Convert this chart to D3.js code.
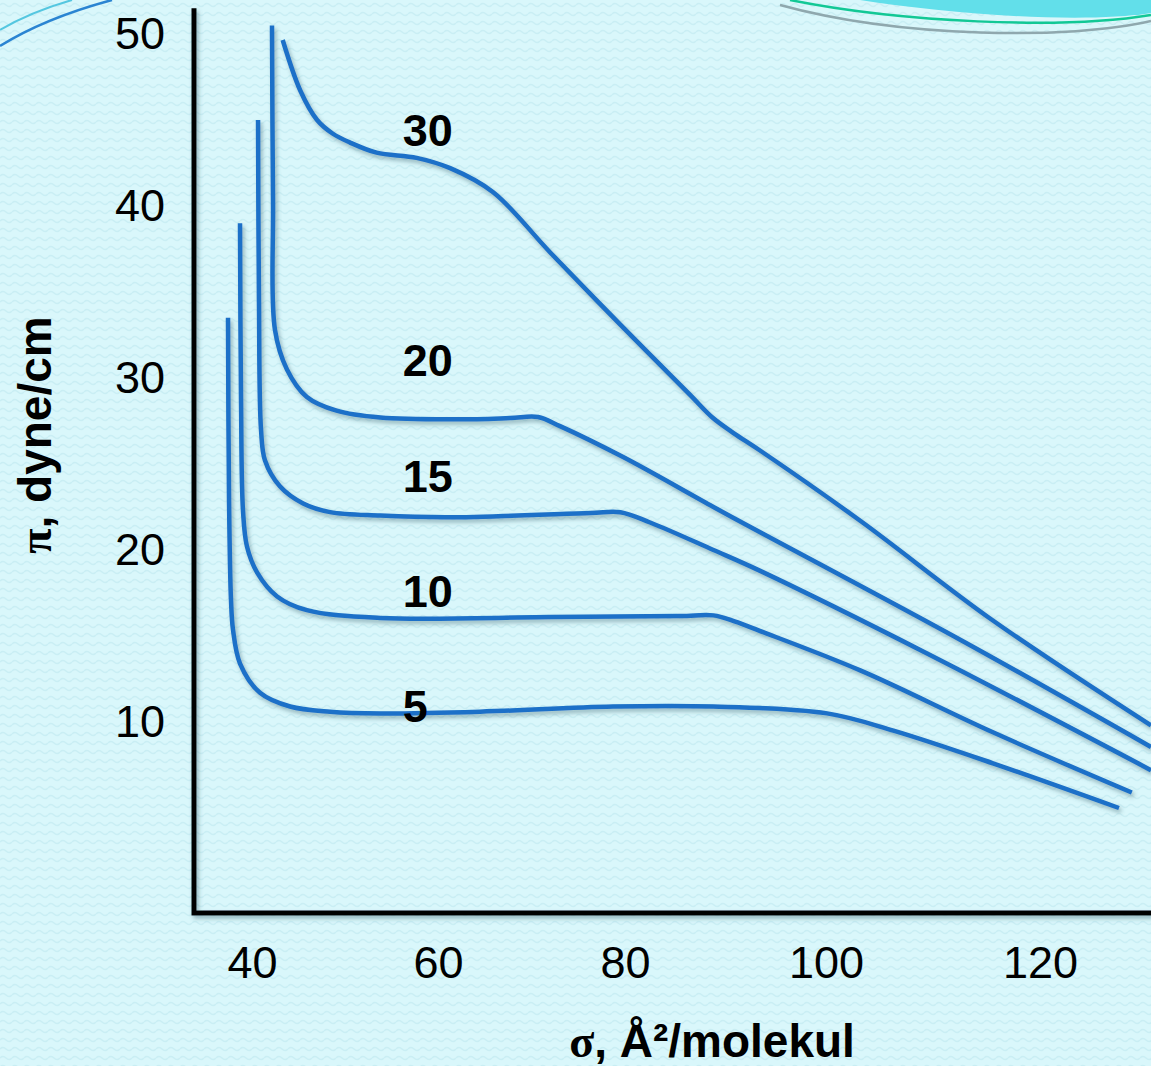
<!DOCTYPE html>
<html>
<head>
<meta charset="utf-8">
<script src="https://cdn.jsdelivr.net/npm/d3@7"></script>
<style>
  html, body { margin: 0; padding: 0; background: #d9f7fb; }
  svg { display: block; }
  text { font-family: "Liberation Sans", Arial, sans-serif; fill: #000; }
</style>
</head>
<body>
<div id="chart"></div>
<script>
// surface pressure isotherms, pi vs sigma
const xTicks = [40, 60, 80, 100, 120];
const yTicks = [10, 20, 30, 40, 50];

const curveNames = ["30", "20", "15", "10", "5"];

const sigma30 = [43.3, 45.2, 47.0, 48.7, 50.5, 53.4, 57.7, 61.3, 65.9, 72.0, 79.5, 86.5, 88.7, 90.8, 93.4, 103.2, 115.6, 130.4];
const pi30    = [49.65, 46.7, 45.0, 44.2, 43.7, 43.1, 42.8, 42.2, 40.8, 37.3, 33.1, 29.0, 27.7, 26.8, 25.8, 21.7, 15.9, 9.8];

const sigma20 = [42.15, 42.26, 42.47, 43.76, 45.9, 49.1, 53.8, 62.3, 67.7, 70.7, 73.05, 79.8, 88.8, 93.4, 112.5, 130.4];
const pi20    = [50.5, 40.3, 32.8, 30.5, 28.9, 28.1, 27.7, 27.6, 27.67, 27.73, 27.2, 25.4, 22.5, 21.05, 14.8, 8.55];

const sigma15 = [40.65, 40.75, 40.97, 41.4, 43.0, 45.5, 48.4, 53.8, 61.0, 76.3, 79.5, 82.5, 88.8, 93.4, 109.4, 130.4];
const pi15    = [45.0, 34.5, 27.0, 25.2, 23.7, 22.7, 22.2, 22.0, 21.9, 22.15, 22.2, 21.6, 20.0, 18.8, 14.0, 7.2];

const sigma10 = [38.71, 38.82, 39.03, 39.46, 40.54, 42.7, 45.9, 53.8, 72.0, 85.5, 88.8, 90.9, 93.4, 103.2, 115.6, 128.6];
const pi10    = [39.0, 28.7, 22.3, 20.2, 18.7, 17.3, 16.5, 16.05, 16.1, 16.16, 16.2, 15.85, 15.3, 13.0, 9.4, 5.9];

const sigma5 = [37.42, 37.53, 37.74, 37.96, 38.71, 40.86, 44.1, 48.4, 53.8, 64.5, 78.7, 88.8, 100.1, 106.3, 115.6, 127.4];
const pi5    = [33.5, 22.9, 17.1, 15.35, 13.4, 11.7, 10.9, 10.6, 10.5, 10.6, 10.9, 10.9, 10.5, 9.5, 7.6, 5.0];

// where the curve labels sit (data units)
const labelSigma = 56.2;
const labelPi = [43.5, 30.1, 23.4, 16.7, 10.0];

const W = 1151, H = 1066;

const svg = d3.select("#chart").append("svg")
    .attr("width", W)
    .attr("height", H);

const defs = svg.append("defs");

// faint wavy texture of the slide background
const pat = defs.append("pattern")
    .attr("id", "waves")
    .attr("width", 12)
    .attr("height", 9)
    .attr("patternUnits", "userSpaceOnUse");
pat.append("rect").attr("width", 12).attr("height", 9).attr("fill", "#d9f7fb");
pat.append("path")
    .attr("d", "M0 5 Q3 2 6 5 T12 5")
    .attr("fill", "none")
    .attr("stroke", "#c9eef4")
    .attr("stroke-width", 1.4);

const shadow = defs.append("filter")
    .attr("id", "shadow")
    .attr("x", "-10%").attr("y", "-10%")
    .attr("width", "120%").attr("height", "120%");
shadow.append("feDropShadow")
    .attr("dx", 2).attr("dy", 3)
    .attr("stdDeviation", 2)
    .attr("flood-color", "#3d6470")
    .attr("flood-opacity", 0.45);

svg.append("rect").attr("width", W).attr("height", H).attr("fill", "url(#waves)");

// top decoration
svg.append("path")
    .attr("d", "M860 0 C950 14 1080 24 1151 13 L1151 0 Z")
    .attr("fill", "#62dfea");
svg.append("path")
    .attr("d", "M790 0 C900 22 1060 30 1151 15")
    .attr("fill", "none").attr("stroke", "#12c895").attr("stroke-width", 2.5);
svg.append("path")
    .attr("d", "M780 5 C900 38 1070 40 1151 21")
    .attr("fill", "none").attr("stroke", "#8fa8ae").attr("stroke-width", 2.5);
svg.append("path")
    .attr("d", "M0 46 Q45 18 112 0")
    .attr("fill", "none").attr("stroke", "#2a84d2").attr("stroke-width", 2.5);
svg.append("path")
    .attr("d", "M0 30 Q30 12 72 0")
    .attr("fill", "none").attr("stroke", "#55c7e0").attr("stroke-width", 2);

// scales (tick labels on the slide are not evenly spaced)
const x = d3.scaleLinear()
    .domain([33.76, 40, 60, 80, 100, 120, 130.4])
    .range([194, 252, 438, 625, 826, 1040, 1151]);

const y = d3.scaleLinear()
    .domain([0, 50])
    .range([894, 34]);

const yMin = -1.1, yMax = 51.5;

// frame
svg.append("path")
    .attr("d", `M${x(33.76)} ${y(yMax)} L${x(33.76)} ${y(yMin)} L${W + 5} ${y(yMin)}`)
    .attr("fill", "none")
    .attr("stroke", "#000")
    .attr("stroke-width", 5)
    .attr("stroke-linejoin", "miter")
    .attr("filter", "url(#shadow)");

const yAxis = svg.append("g")
    .attr("transform", `translate(${x(33.76)},0)`)
    .call(d3.axisLeft(y).tickValues(yTicks).tickSize(0).tickPadding(29));
yAxis.select(".domain").remove();
yAxis.selectAll("text")
    .style("font-family", "'Liberation Sans', Arial, sans-serif")
    .style("font-size", "45px")
    .attr("fill", "#000");

const xAxis = svg.append("g")
    .attr("transform", `translate(0,${y(yMin)})`)
    .call(d3.axisBottom(x).tickValues(xTicks).tickSize(0).tickPadding(33));
xAxis.select(".domain").remove();
xAxis.selectAll("text")
    .style("font-family", "'Liberation Sans', Arial, sans-serif")
    .style("font-size", "45px")
    .attr("fill", "#000");

// axis titles
const xt = svg.append("text")
    .attr("x", 712)
    .attr("y", 1057)
    .attr("text-anchor", "middle")
    .style("font-size", "46px")
    .style("font-weight", "bold");
xt.append("tspan").style("font-family", "'Liberation Serif', serif").text("σ");
xt.append("tspan").text(", Å²/molekul");

const yt = svg.append("text")
    .attr("transform", "translate(51,435) rotate(-90)")
    .attr("text-anchor", "middle")
    .style("font-size", "46px")
    .style("font-weight", "bold");
yt.append("tspan").style("font-family", "'Liberation Serif', serif").text("π");
yt.append("tspan").text(", dyne/cm");

// isotherms
const series = [
    { sx: sigma30, sy: pi30 },
    { sx: sigma20, sy: pi20 },
    { sx: sigma15, sy: pi15 },
    { sx: sigma10, sy: pi10 },
    { sx: sigma5, sy: pi5 }
];

const line = d3.line()
    .x(d => x(d[0]))
    .y(d => y(d[1]))
    .curve(d3.curveCatmullRom.alpha(0.5));

svg.append("g")
    .attr("filter", "url(#shadow)")
    .selectAll("path")
    .data(series)
    .enter()
    .append("path")
    .attr("d", s => line(s.sx.map((v, i) => [v, s.sy[i]])))
    .attr("fill", "none")
    .attr("stroke", "#1a6fc8")
    .attr("stroke-width", 4.5);

svg.append("g")
    .selectAll("text")
    .data(curveNames)
    .enter()
    .append("text")
    .attr("x", x(labelSigma))
    .attr("y", (d, i) => y(labelPi[i]))
    .style("font-size", "45px")
    .style("font-weight", "bold")
    .text(d => d);
</script>
</body>
</html>
